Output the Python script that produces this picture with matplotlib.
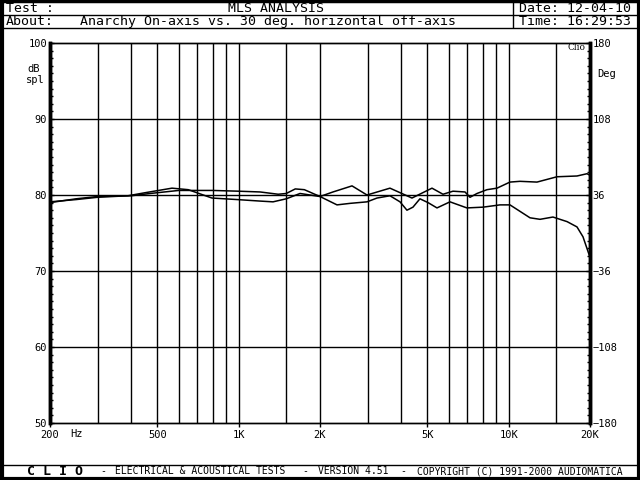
import numpy as np
import matplotlib
matplotlib.use('agg')
import matplotlib.pyplot as plt

# on-axis response (dB spl)
freq_on = [200, 250, 300, 400, 470, 600, 800, 1000, 1200, 1400, 1500, 1620, 1750, 2000,
           2234, 2628, 2986, 3632, 4382, 5198, 5708, 6218, 6888, 7188, 7630, 8308, 9048,
           10106, 11008, 12726, 15090, 17900, 19494, 20000]
spl_on = [79.0, 79.5, 79.8, 79.9, 80.2, 80.6, 80.6, 80.5, 80.4, 80.1, 80.2, 80.8, 80.7, 79.8,
          80.4, 81.2, 80.0, 80.9, 79.6, 80.9, 80.1, 80.5, 80.4, 79.7, 80.2, 80.7, 80.9,
          81.7, 81.8, 81.7, 82.4, 82.5, 82.8, 82.6]

# 30 deg horizontal off-axis response
freq_off = [200, 250, 300, 389, 450, 566, 650, 796, 986, 1200, 1340, 1500, 1687, 2000,
            2312, 2585, 2986, 3252, 3632, 3957, 4198, 4419, 4690, 5024, 5424, 6060, 7000,
            8030, 9283, 10106, 11990, 13060, 14580, 16440, 17900, 18840, 20000]
spl_off = [79.1, 79.4, 79.7, 79.9, 80.3, 80.9, 80.7, 79.6, 79.4, 79.2, 79.1, 79.5, 80.2, 79.8,
           78.7, 78.9, 79.1, 79.6, 79.9, 79.1, 78.0, 78.4, 79.5, 79.0, 78.3, 79.1, 78.3,
           78.4, 78.7, 78.7, 77.0, 76.8, 77.1, 76.5, 75.8, 74.5, 71.8]

grid_freqs = [300, 400, 500, 600, 700, 800, 900, 1000, 1500, 2000, 3000, 4000, 5000,
              6000, 7000, 8000, 9000, 10000, 15000]
xtick_vals = [200, 500, 1000, 2000, 5000, 10000, 20000]
xtick_labels = ['200', '500', '1K', '2K', '5K', '10K', '20K']
db_ticks = [50, 60, 70, 80, 90, 100]
deg_ticks = [-180, -108, -36, 36, 108, 180]

mono = 'DejaVu Sans Mono'
W, H = 640, 480

fig = plt.figure(figsize=(6.4, 4.8), dpi=100)
ax = fig.add_axes([50 / W, 57 / H, 540 / W, 380 / H])

ax.semilogx(freq_on, spl_on, color='black', lw=1.1, zorder=3)
ax.semilogx(freq_off, spl_off, color='black', lw=1.1, zorder=3)

for f in grid_freqs:
    ax.axvline(f, color='black', lw=1.0, zorder=1)
for d in db_ticks[1:-1]:
    ax.axhline(d, color='black', lw=1.0, zorder=1)

ax.set_xlim(200, 20000)
ax.set_ylim(50, 100)
ax.set_xticks(xtick_vals)
ax.set_xticklabels(xtick_labels)
ax.xaxis.set_minor_locator(matplotlib.ticker.NullLocator())
ax.set_yticks(db_ticks)
ax.set_yticks(np.arange(50, 101, 1), minor=True)
ax.tick_params(axis='x', direction='out', length=3, width=1, pad=2, labelsize=7.5)
ax.tick_params(axis='y', which='major', direction='in', length=3, width=1, pad=2, labelsize=7.5)
ax.tick_params(axis='y', which='minor', direction='in', length=2, width=1)
for lbl in ax.get_xticklabels() + ax.get_yticklabels():
    lbl.set_family(mono)

ax2 = ax.twinx()
ax2.set_ylim(-180, 180)
ax2.set_yticks(deg_ticks)
ax2.set_yticks(np.arange(-180, 181, 7.2), minor=True)
ax2.tick_params(axis='y', which='major', direction='in', length=3, width=1, pad=2, labelsize=7.5)
ax2.tick_params(axis='y', which='minor', direction='in', length=2, width=1)
for lbl in ax2.get_yticklabels():
    lbl.set_family(mono)

for a in (ax, ax2):
    a.spines['left'].set_linewidth(2.5)
    a.spines['right'].set_linewidth(2.5)
    a.spines['top'].set_linewidth(1)
    a.spines['bottom'].set_linewidth(1)

# overlay in pixel coordinates for frame, header and footer
ov = fig.add_axes([0, 0, 1, 1], facecolor='none')
ov.set_xlim(0, W)
ov.set_ylim(H, 0)
ov.axis('off')

def hline(y, x0=0, x1=W, lw=1.0):
    ov.plot([x0, x1], [y, y], color='black', lw=lw, solid_capstyle='butt')

def vline(x, y0, y1, lw=1.0):
    ov.plot([x, x], [y0, y1], color='black', lw=lw, solid_capstyle='butt')

# outer frame
hline(1, lw=2.5)
hline(478.5, lw=3)
vline(1.5, 0, H, lw=3)
vline(638.5, 0, H, lw=3)
# header lines
hline(15)
hline(28)
vline(513, 0, 28)
# footer line
hline(465)

ov.text(6, 8.5, 'Test :', family=mono, fontsize=9.5, va='center', ha='left')
ov.text(276, 8.5, 'MLS ANALYSIS', family=mono, fontsize=9.5, va='center', ha='center')
ov.text(519, 8.5, 'Date: 12-04-10', family=mono, fontsize=9.5, va='center', ha='left')
ov.text(6, 21.5, 'About:', family=mono, fontsize=9.5, va='center', ha='left')
ov.text(80, 21.5, 'Anarchy On-axis vs. 30 deg. horizontal off-axis', family=mono,
        fontsize=9.5, va='center', ha='left')
ov.text(519, 21.5, 'Time: 16:29:53', family=mono, fontsize=9.5, va='center', ha='left')

ov.text(27, 69, 'dB', family=mono, fontsize=7.5, va='center', ha='left')
ov.text(26, 80, 'spl', family=mono, fontsize=7.5, va='center', ha='left')
ov.text(597, 74, 'Deg', family=mono, fontsize=7.5, va='center', ha='left')
ov.text(586, 48, 'Clio', family='DejaVu Serif', fontsize=6.5, va='center', ha='right')
ov.text(70, 434, 'Hz', family=mono, fontsize=7.5, va='center', ha='left')

fy = 471.5
ov.text(27, fy, 'C L I O', family=mono, fontsize=9.5, fontweight='bold', va='center', ha='left')
ov.text(100, fy, '-', family=mono, fontsize=7, va='center', ha='left')
ov.text(115, fy, 'ELECTRICAL & ACOUSTICAL TESTS', family=mono, fontsize=7, va='center', ha='left')
ov.text(302, fy, '-', family=mono, fontsize=7, va='center', ha='left')
ov.text(318, fy, 'VERSION 4.51', family=mono, fontsize=7, va='center', ha='left')
ov.text(400, fy, '-', family=mono, fontsize=7, va='center', ha='left')
ov.text(417, fy, 'COPYRIGHT (C) 1991-2000 AUDIOMATICA', family=mono, fontsize=7,
        va='center', ha='left')

plt.savefig('out.png', dpi=100)
